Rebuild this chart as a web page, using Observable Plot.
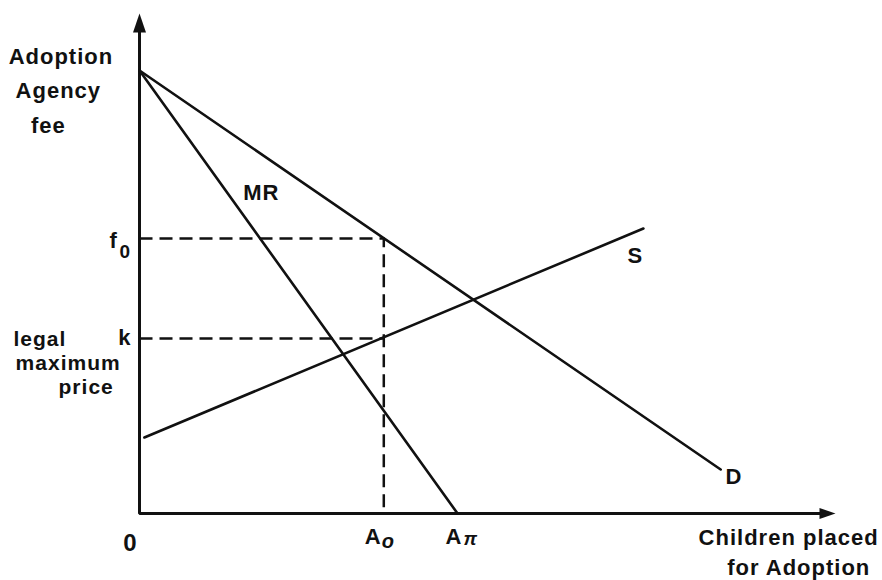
<!DOCTYPE html>
<html>
<head>
<meta charset="utf-8">
<script src="https://cdn.jsdelivr.net/npm/d3@7"></script>
<script src="https://cdn.jsdelivr.net/npm/@observablehq/plot@0.6"></script>
<style>
  html, body { margin: 0; padding: 0; background: #fff; }
  #chart svg text { letter-spacing: 1px; }
</style>
</head>
<body>
<div id="chart"></div>
<script>
// ---- data (economic units) ----
const priceIntercept = 88.6;           // where D and MR meet the fee axis
const demandEnd = [83.5, 8.8];          // D line end point
const mrZero = 45.7;                    // A_pi, MR meets quantity axis
const supplyStart = [0.7, 15.2];
const supplyEnd = [72.4, 57];
const f0 = 55;                          // monopoly fee
const kMax = 35;                        // legal maximum price
const A0 = 35.1;                        // quantity placed

const yTitle = ["Adoption", "Agency", "fee"];
const xTitle = ["Children placed", "for Adoption"];
const legalNote = ["legal", "maximum", "price"];

const demand = [{x: 0, y: priceIntercept}, {x: demandEnd[0], y: demandEnd[1]}];
const mr = [{x: 0, y: priceIntercept}, {x: mrZero, y: 0}];
const supply = [{x: supplyStart[0], y: supplyStart[1]}, {x: supplyEnd[0], y: supplyEnd[1]}];
const dashF0 = [{x: 0, y: f0}, {x: A0, y: f0}, {x: A0, y: 0}];
const dashK = [{x: 0, y: kMax}, {x: A0, y: kMax}];

const font = "Liberation Sans, Arial, sans-serif";
const ink = "#111";

const upHead = {draw(ctx) { ctx.moveTo(0, 0); ctx.lineTo(-6.5, 19); ctx.lineTo(6.5, 19); ctx.closePath(); }};
const rightHead = {draw(ctx) { ctx.moveTo(0, 0); ctx.lineTo(-16, -5.5); ctx.lineTo(-16, 5.5); ctx.closePath(); }};

const T = (data, opts) => Plot.text(data, {
  text: d => d, fontFamily: font, fontWeight: "bold", fontSize: 22,
  fill: ink, lineAnchor: "bottom", textAnchor: "start", ...opts
});

const chart = Plot.plot({
  width: 882,
  height: 580,
  margin: 0,
  style: {background: "#fff", color: ink},
  x: {domain: [0, 100], range: [139, 835], axis: null},
  y: {domain: [0, 100], range: [513, 13], axis: null},
  marks: [
    // axes
    Plot.line([{x: 0, y: 97}, {x: 0, y: 0}, {x: 98, y: 0}], {x: "x", y: "y", stroke: ink, strokeWidth: 3, strokeLinecap: "butt", strokeLinejoin: "miter"}),
    Plot.dot([{x: 0, y: 100}], {x: "x", y: "y", symbol: upHead, fill: ink, stroke: "none"}),
    Plot.dot([{x: 100, y: 0}], {x: "x", y: "y", symbol: rightHead, fill: ink, stroke: "none"}),
    // dashed guides
    Plot.line(dashF0, {x: "x", y: "y", stroke: ink, strokeWidth: 2.5, strokeDasharray: "13,7", strokeLinecap: "butt"}),
    Plot.line(dashK, {x: "x", y: "y", stroke: ink, strokeWidth: 2.5, strokeDasharray: "13,7", strokeLinecap: "butt"}),
    // curves
    Plot.line(demand, {x: "x", y: "y", stroke: ink, strokeWidth: 2.6}),
    Plot.line(mr, {x: "x", y: "y", stroke: ink, strokeWidth: 2.6}),
    Plot.line(supply, {x: "x", y: "y", stroke: ink, strokeWidth: 2.6}),
    // curve labels
    T(["MR"], {x: 14.9, y: 62.8}),
    T(["S"], {x: 70.1, y: 50.2}),
    T(["D"], {x: 84.2, y: 6}),
    // axis titles
    T([yTitle[0]], {x: -18.8, y: 90}),
    T([yTitle[1]], {x: -17.8, y: 83.2}),
    T([yTitle[2]], {x: -15.6, y: 76.2}),
    T([xTitle[0]], {x: 106.2, y: -6.2, textAnchor: "end"}),
    T([xTitle[1]], {x: 105.0, y: -12.2, textAnchor: "end"}),
    T([legalNote[0]], {x: -18.1, y: 33.6, fontSize: 21}),
    T([legalNote[1]], {x: -17.8, y: 28.8, fontSize: 21}),
    T([legalNote[2]], {x: -3.7, y: 24, fontSize: 21, textAnchor: "end"}),
    // tick-like labels
    T(["f"], {x: 0, y: f0, dx: -30, dy: 9}),
    T(["0"], {x: 0, y: f0, dx: -20, dy: 19, fontSize: 19}),
    T(["k"], {x: 0, y: kMax, dx: -8, dy: 6, textAnchor: "end"}),
    T(["0"], {x: 0, y: 0, dx: -9, dy: 37, textAnchor: "middle", fontSize: 24}),
    T(["A"], {x: A0, y: 0, dx: -19, dy: 30, fontSize: 22}),
    T(["o"], {x: A0, y: 0, dx: -2, dy: 34, fontSize: 20, fontStyle: "italic"}),
    T(["A"], {x: mrZero, y: 0, dx: -12, dy: 30, fontSize: 22}),
    T(["π"], {x: mrZero, y: 0, dx: 6, dy: 31, fontSize: 19, fontStyle: "italic"})
  ]
});
document.getElementById("chart").appendChild(chart);
</script>
</body>
</html>
